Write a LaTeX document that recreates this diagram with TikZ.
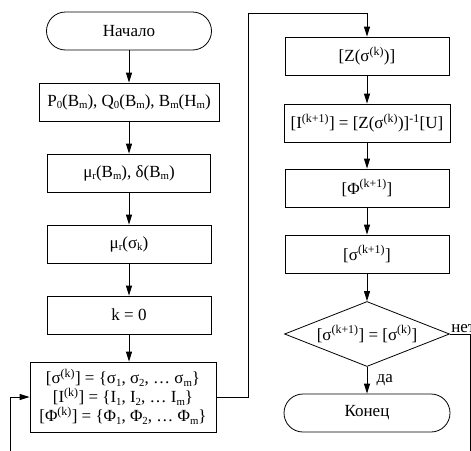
\documentclass[tikz,border=0pt]{standalone}
\usepackage{fontspec}
\setmainfont{Liberation Serif}
\usetikzlibrary{shapes.geometric,positioning,arrows.meta}
\newcommand{\sbs}[1]{\raisebox{-0.3ex}{\fontsize{10.8}{12}\selectfont #1}}
\newcommand{\sps}[1]{\textsuperscript{#1}}

\begin{document}
\begin{tikzpicture}[x=1pt,y=-1pt,
        font=\fontsize{17}{19}\selectfont,
        line width=0.8pt,
        blk/.style={draw,rectangle,minimum height=38pt,inner sep=1pt},
        term/.style={blk,rounded corners=19pt},
        dec/.style={draw,diamond,aspect=2.5,minimum width=165pt,minimum height=65pt,inner sep=0pt},
        arr/.style={-{Triangle[length=10pt,width=6pt]}}]
        \useasboundingbox (0,0) rectangle (471,450);
        \clip (0,0) rectangle (471,450);
        \node[term,minimum width=165pt] (start) at (129,31) {Начало};
        \node[blk,minimum width=180pt] (p0) at (129,102) {P\sbs{0}(B\sbs{m}), Q\sbs{0}(B\sbs{m}), B\sbs{m}(H\sbs{m})};
        \node[blk,minimum width=163pt] (mub) at (129,173) {μ\sbs{r}(B\sbs{m}), δ(B\sbs{m})};
        \node[blk,minimum width=164pt] (mus) at (129,244) {μ\sbs{r}(σ\sbs{k})};
        \node[blk,minimum width=164pt] (k0) at (129,315) {k = 0};
        \node[blk,minimum width=186pt,minimum height=70pt,align=center] (sig) at (123,397)
          {{[}σ\sps{(k)}] = \{σ\sbs{1}, σ\sbs{2}, … σ\sbs{m}\}\\
           {[}I\sps{(k)}] = \{I\sbs{1}, I\sbs{2}, … I\sbs{m}\}\\
           {[}Φ\sps{(k)}] = \{Φ\sbs{1}, Φ\sbs{2}, … Φ\sbs{m}\}};
        \node[blk,minimum width=164pt] (z) at (367,56) {[Z(σ\sps{(k)})]};
        \node[blk,minimum width=166pt] (inew) at (367,123) {[I\sps{(k+1)}] = [Z(σ\sps{(k)})]\sps{-1}[U]};
        \node[blk,minimum width=164pt] (phi) at (367,188) {[Φ\sps{(k+1)}]};
        \node[blk,minimum width=164pt] (snew) at (367,254) {[σ\sps{(k+1)}]};
        \node[dec] (chk) at (367,334) {[σ\sps{(k+1)}] = [σ\sps{(k)}]};
        \node[term,minimum width=166pt] (fin) at (367,413) {Конец};
        \coordinate (tr) at (248,13);
        \coordinate (rb) at (470,470);
        \coordinate (lb) at (10,470);
        \foreach \a/\b in {start/p0,p0/mub,mub/mus,mus/k0,z/inew,inew/phi,phi/snew,snew/chk} {
          \draw[arr] (\a) -- (\b);
        }
        \draw[arr] (k0) -- (k0 |- sig.north);
        \draw[arr] (chk) -- node[right=6pt] {да} (fin);
        \draw[arr] (sig.east) -| (tr) -| (z.north);
        \draw[arr] (chk.east) -| (rb) -- (lb) |- (sig.west);
        \node[anchor=south west,inner sep=1pt] at (chk.east) {нет};
      \end{tikzpicture}
\end{document}
